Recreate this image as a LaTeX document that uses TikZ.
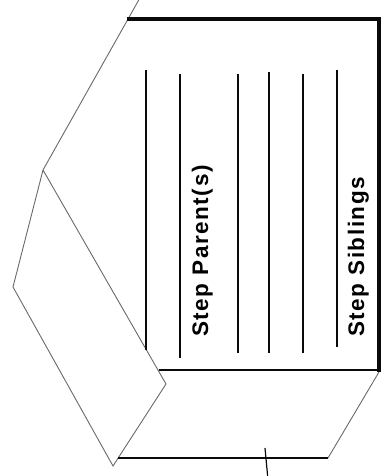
\documentclass[tikz,border=0pt]{standalone}
\usepackage{fontspec}
\setmainfont{Liberation Sans}
\usetikzlibrary{positioning}
\definecolor{frameblack}{RGB}{10,10,10}
\definecolor{slantgray}{RGB}{105,105,105}
\tikzset{
  heavyedge/.style={line width=4pt, color=frameblack, line cap=rect},
  plainedge/.style={line width=2pt, color=frameblack},
  rule/.style={line width=1.6pt, color=frameblack},
  slant/.style={line width=0.9pt, color=slantgray, line join=miter},
  sidelabel/.style={rotate=90, anchor=base west, inner sep=0pt,
    font=\fontsize{22.5}{26}\selectfont\bfseries\addfontfeature{LetterSpace=7}}
}
\begin{document}
\begin{tikzpicture}[x=1pt, y=-1pt]
  \useasboundingbox (0,0) rectangle (385,476);

  % frame corners
  \coordinate (tl) at (129,19);
  \coordinate (tr) at (379,19);
  \coordinate (br) at (379,370);
  \coordinate (bl) at (159,370);

  % slanted outline
  \coordinate (s0) at (141,-4);
  \coordinate (s1) at (43,170);
  \coordinate (s2) at (166,384);
  \coordinate (s3) at (113,466);
  \coordinate (s4) at (13,287);
  \coordinate (b1) at (118,458);
  \coordinate (b2) at (328,458);
  \coordinate (b3) at (379,372);

  \draw[slant] (s0) -- (s1) -- (s2) -- (s3) -- (s4) -- (s1);
  \draw[slant] (b2) -- (b3);
  \draw[plainedge] (b1) -- (b2);
  \draw[line width=1.2pt, color=frameblack] (265,448) -- (268,480);

  \draw[heavyedge] (tl) -- (tr) -- (br);
  \draw[plainedge] (bl) -- (br);

  % ruled lines
  \draw[rule] (146,70) -- (146,350);
  \draw[rule] (180,74) -- (180,358);
  \draw[rule] (238,74) -- (238,353);
  \draw[rule] (269,72) -- (269,353);
  \draw[rule] (303,74) -- (303,353);
  \draw[rule] (337,70) -- (337,347);

  \node[sidelabel] (parents) at (208,337) {Step Parent(s)};
  \node[sidelabel] (siblings) at (364,337) {Step Siblings};
\end{tikzpicture}
\end{document}
